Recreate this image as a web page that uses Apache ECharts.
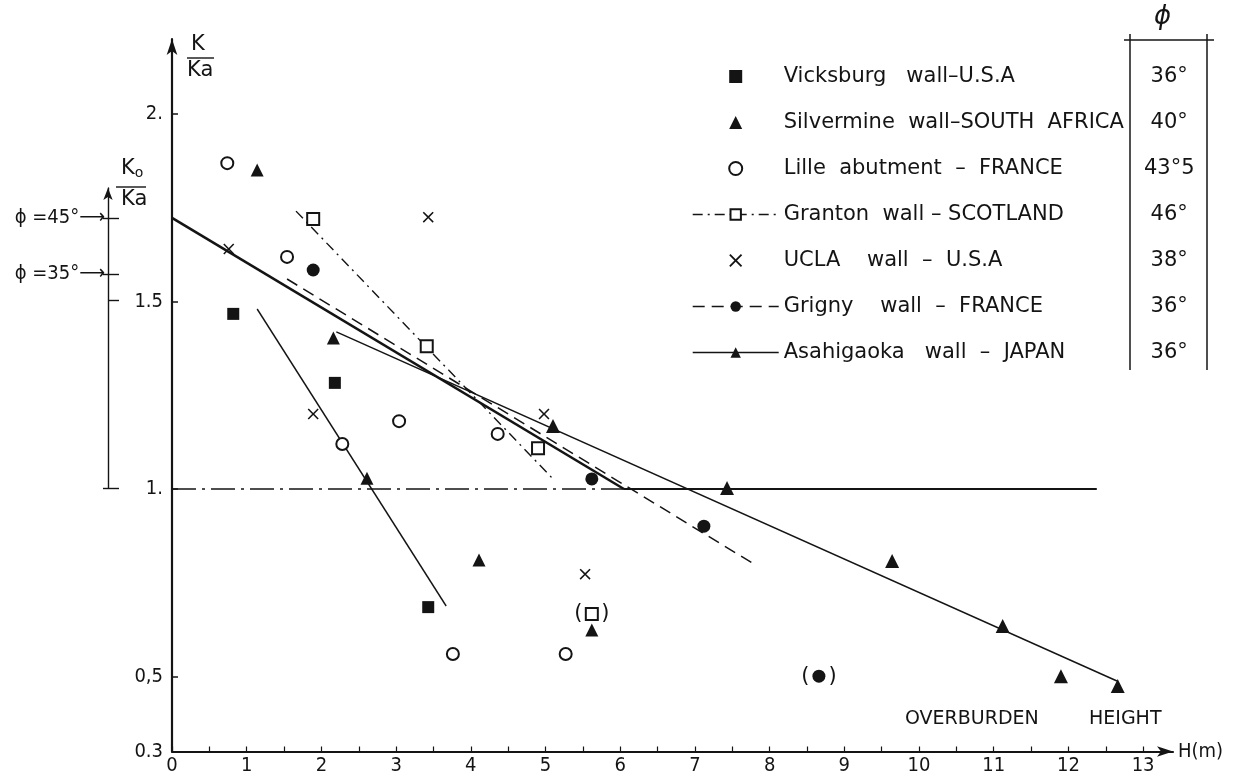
<!DOCTYPE html>
<html>
<head>
<meta charset="utf-8">
<title>K/Ka versus overburden height</title>
<script src="https://cdn.jsdelivr.net/npm/echarts@6/dist/echarts.min.js"></script>
<style>
  html, body { margin: 0; padding: 0; background: #fff; }
  #chart { width: 1241px; height: 778px; }
</style>
</head>
<body>
<div id="chart"></div>
<script>
// ---- Sites, friction angles and measured points [H (m), K/Ka] ----
const siteNames = [
  'Vicksburg   wall–U.S.A',
  'Silvermine  wall–SOUTH  AFRICA',
  'Lille  abutment  –  FRANCE',
  'Granton  wall – SCOTLAND',
  'UCLA    wall  –  U.S.A',
  'Grigny    wall  –  FRANCE',
  'Asahigaoka   wall  –  JAPAN'
];
const phiValues = ['36°', '40°', '43°5', '46°', '38°', '36°', '36°'];

const vicksburg = [[0.82, 1.467], [2.18, 1.283], [3.43, 0.685]];
const silvermine = [[1.14, 1.851], [2.16, 1.403], [2.61, 1.029], [4.11, 0.811], [5.62, 0.624]];
const lille = [[0.74, 1.869], [1.54, 1.619], [2.28, 1.12], [3.04, 1.181], [4.36, 1.147], [3.76, 0.56], [5.27, 0.56]];
const granton = [[1.89, 1.72], [3.41, 1.381], [4.90, 1.109]];
const grantonDoubtful = [[5.62, 0.667]];
const ucla = [[0.76, 1.64], [1.89, 1.20], [3.43, 1.725], [4.98, 1.20], [5.53, 0.773]];
const grigny = [[1.89, 1.584], [5.62, 1.027], [7.12, 0.901]];
const grignyDoubtful = [[8.66, 0.501]];
const asahigaoka = [[5.10, 1.168], [7.43, 1.003], [9.64, 0.808], [11.12, 0.635], [11.90, 0.501], [12.66, 0.475]];

// ---- Fitted trend lines, end points [H, K/Ka] ----
const grantonFit = [[1.66, 1.741], [5.09, 1.029]];
const grignyFit = [[1.54, 1.56], [7.83, 0.795]];
const silvermineFit = [[1.14, 1.48], [3.67, 0.688]];
const asahigaokaFit = [[2.20, 1.419], [12.65, 0.488]];

// ---- Design line: K0/Ka at H = 0 falling to K = Ka, then constant ----
const designSlope = [[0, 1.723], [6.05, 1.0]];
const unityDashed = [[0, 1], [6.05, 1]];
const unitySolid = [[6.05, 1], [12.38, 1]];

// ---- Axis ticks and labels ----
const xTickLabels = [0, 1, 2, 3, 4, 5, 6, 7, 8, 9, 10, 11, 12, 13];
const yTickValues = [0.3, 0.5, 1, 1.5, 2];
const yTickLabels = ['0.3', '0,5', '1.', '1.5', '2.'];
const k0TickValues = [1.57, 1.72];
const k0TickLabels = ['ϕ =35°', 'ϕ =45°'];

const FONT = "'DejaVu Sans', sans-serif";
const FONT_C = "'DejaVu Sans Condensed', 'DejaVu Sans', sans-serif";
const INK = '#141414';

const xHalfTicks = [];
xTickLabels.forEach(v => { xHalfTicks.push(v); if (v < 13) xHalfTicks.push(v + 0.5); });

// marker shapes
const SQUARE = 'path://M0,0 L10,0 L10,10 L0,10 Z';
const TRIANGLE = 'path://M5,0 L10,10 L0,10 Z';
const CROSS = 'path://M1,0 L5,4 L9,0 L10,1 L6,5 L10,9 L9,10 L5,6 L1,10 L0,9 L4,5 L0,1 Z';

function pointSeries(name, pts, symbol, size) {
  const hollow = symbol.indexOf('empty') === 0;
  return {
    type: 'scatter', name: name, data: pts, symbol: symbol, symbolSize: size,
    symbolKeepAspect: true,
    itemStyle: { color: INK, borderColor: INK, borderWidth: hollow ? 1.5 : 0, opacity: 1 },
    z: 5, silent: true
  };
}

function fitSeries(name, pts, type, width, symbol) {
  return {
    type: 'line', name: name, data: pts, showSymbol: false, symbol: symbol || 'none',
    lineStyle: { color: INK, width: width, type: type },
    itemStyle: { color: INK, opacity: 1 }, z: 3, silent: true
  };
}

const doubtLabel = {
  show: true, position: 'inside',
  formatter: '{p|(}{g|}{p|)}',
  rich: { p: { fontSize: 21, color: INK, fontFamily: FONT }, g: { width: 19 } }
};

const chart = echarts.init(document.getElementById('chart'));
chart.setOption({
  animation: false,
  backgroundColor: '#fff',
  textStyle: { fontFamily: FONT, color: INK },
  grid: [
    { left: 172, top: 39, width: 1001, height: 712.5 },
    { left: 108, top: 188, width: 10, height: 300 }
  ],
  xAxis: [
    {
      type: 'value', gridIndex: 0, min: 0, max: 13.4,
      axisLine: { show: true, symbol: ['none', 'arrow'], symbolSize: [8, 16], lineStyle: { color: INK, width: 2.2 } },
      axisTick: { show: true, inside: true, length: 5, customValues: xHalfTicks, lineStyle: { color: INK, width: 1.2 } },
      axisLabel: { customValues: xTickLabels, color: INK, fontSize: 20, margin: 4, fontFamily: FONT_C },
      splitLine: { show: false },
      name: 'H(m)', nameLocation: 'end', nameGap: 5,
      nameTextStyle: { fontSize: 20, color: INK, fontFamily: FONT_C, padding: [0, 0, 6, 0] }
    },
    { type: 'value', gridIndex: 1, min: 0, max: 1, show: false }
  ],
  yAxis: [
    {
      type: 'value', gridIndex: 0, min: 0.3, max: 2.2,
      axisLine: { show: true, symbol: ['none', 'arrow'], symbolSize: [8, 16], lineStyle: { color: INK, width: 2.2 } },
      axisTick: { show: true, inside: true, length: 6, customValues: [0.5, 1, 1.5, 2], lineStyle: { color: INK, width: 1.5 } },
      axisLabel: {
        customValues: yTickValues, color: INK, fontSize: 20, margin: 9, fontFamily: FONT_C,
        formatter: v => yTickLabels[yTickValues.findIndex(t => Math.abs(t - v) < 1e-6)]
      },
      splitLine: { show: false }
    },
    {
      type: 'value', gridIndex: 1, min: 1.0, max: 1.8, position: 'left',
      axisLine: { show: true, symbol: ['none', 'arrow'], symbolSize: [7, 12], lineStyle: { color: INK, width: 1.4 } },
      axisTick: { show: true, length: 5, customValues: [1.0, 1.57, 1.72], lineStyle: { color: INK, width: 1.4 } },
      axisLabel: {
        customValues: k0TickValues, color: INK, fontSize: 20, margin: 3, fontFamily: FONT_C,
        formatter: v => k0TickLabels[k0TickValues.findIndex(t => Math.abs(t - v) < 1e-6)] + '⟶'
      },
      splitLine: { show: false }
    },
    {
      type: 'value', gridIndex: 1, min: 1.0, max: 1.8, position: 'left',
      axisLine: { show: false },
      axisTick: { show: true, inside: true, length: 11, customValues: [1.0, 1.5, 1.57, 1.72], lineStyle: { color: INK, width: 1.4 } },
      axisLabel: { show: false },
      splitLine: { show: false }
    }
  ],
  legend: {
    orient: 'vertical', left: 687, top: 61,
    itemWidth: 86, itemHeight: 13, itemGap: 25,
    symbolKeepAspect: true,
    selectedMode: false,
    data: siteNames,
    lineStyle: { width: 1.4 },
    formatter: name => '{n|' + name + '}{p|' + phiValues[siteNames.indexOf(name)] + '}',
    textStyle: {
      color: INK, fontFamily: FONT, fontSize: 21,
      rich: {
        n: { width: 347, fontSize: 21, lineHeight: 24, color: INK, fontFamily: FONT },
        p: { width: 77, align: 'center', fontSize: 21, lineHeight: 24, color: INK, fontFamily: FONT }
      }
    }
  },
  graphic: [
    // K / Ka axis title
    { type: 'text', left: 191, top: 34, style: { text: 'K', fontSize: 21, fontFamily: FONT, fill: INK } },
    { type: 'line', shape: { x1: 187, y1: 58, x2: 214, y2: 58 }, style: { stroke: INK, lineWidth: 1.4 } },
    { type: 'text', left: 187, top: 60, style: { text: 'Ka', fontSize: 21, fontFamily: FONT, fill: INK } },
    // K0 / Ka scale title
    { type: 'text', left: 121, top: 158, style: { text: 'K{s|o}', fontSize: 21, fontFamily: FONT, fill: INK, rich: { s: { fontSize: 14, fontFamily: FONT, padding: [10, 0, 0, 0] } } } },
    { type: 'line', shape: { x1: 116, y1: 187, x2: 146, y2: 187 }, style: { stroke: INK, lineWidth: 1.4 } },
    { type: 'text', left: 121, top: 189, style: { text: 'Ka', fontSize: 21, fontFamily: FONT, fill: INK } },
    // x axis caption
    { type: 'text', left: 905, top: 710, style: { text: 'OVERBURDEN', fontSize: 19, fontFamily: FONT, fill: INK } },
    { type: 'text', left: 1089, top: 710, style: { text: 'HEIGHT', fontSize: 19, fontFamily: FONT, fill: INK } },
    // friction angle column of the key
    { type: 'text', left: 1154, top: 4, style: { text: 'ϕ', fontSize: 26, fontStyle: 'italic', fontFamily: FONT, fill: INK } },
    { type: 'line', shape: { x1: 1124, y1: 40, x2: 1214, y2: 40 }, style: { stroke: INK, lineWidth: 1.5 } },
    { type: 'line', shape: { x1: 1130, y1: 34, x2: 1130, y2: 370 }, style: { stroke: INK, lineWidth: 1.5 } },
    { type: 'line', shape: { x1: 1207, y1: 34, x2: 1207, y2: 370 }, style: { stroke: INK, lineWidth: 1.5 } }
  ],
  series: [
    // design line
    fitSeries('design', designSlope, 'solid', 2.6),
    fitSeries('unity-a', unityDashed, [24, 6, 3, 6], 1.5),
    fitSeries('unity-b', unitySolid, 'solid', 2),
    // measured sites
    pointSeries(siteNames[0], vicksburg, SQUARE, 12),
    pointSeries(siteNames[1], silvermine, TRIANGLE, 13),
    fitSeries('silvermine-fit', silvermineFit, 'solid', 1.4),
    pointSeries(siteNames[2], lille, 'emptyCircle', 12),
    fitSeries(siteNames[3], grantonFit, [10, 5, 2, 5], 1.4, 'emptyRect'),
    pointSeries(siteNames[3],
      granton.map(p => p).concat(grantonDoubtful.map(p => ({ value: p, label: doubtLabel }))),
      'emptyRect', 12),
    pointSeries(siteNames[4], ucla, CROSS, 11),
    fitSeries(siteNames[5], grignyFit, [12, 7], 1.5, 'circle'),
    pointSeries(siteNames[5],
      grigny.map(p => p).concat(grignyDoubtful.map(p => ({ value: p, label: doubtLabel }))),
      'circle', 13),
    fitSeries(siteNames[6], asahigaokaFit, 'solid', 1.5, 'triangle'),
    pointSeries(siteNames[6], asahigaoka, TRIANGLE, 14)
  ]
});
</script>
</body>
</html>
